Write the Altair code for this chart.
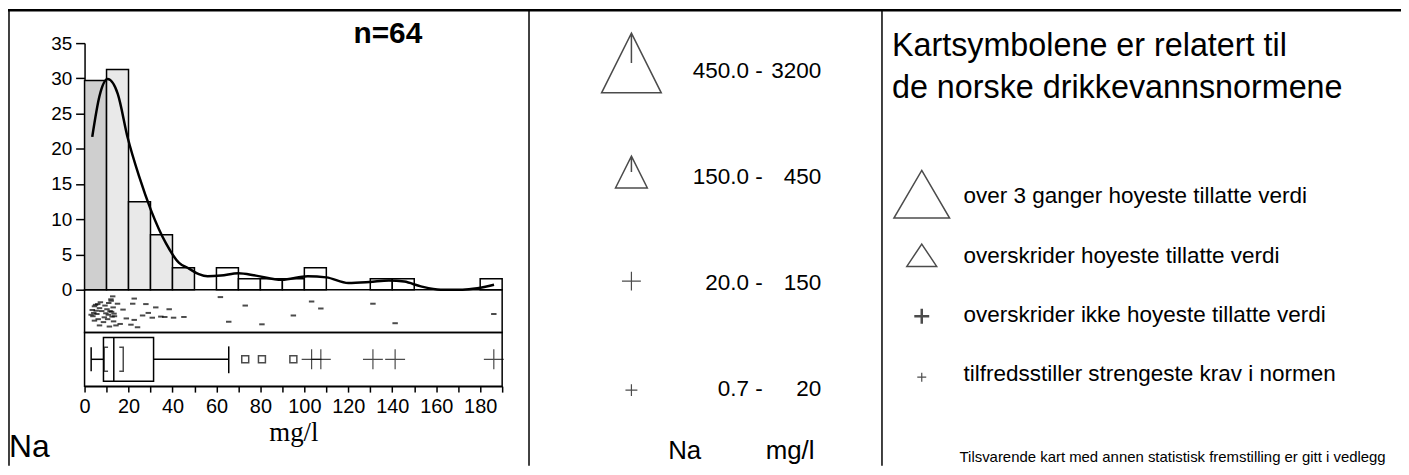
import altair as alt
import pandas as pd

# ---------------- data ----------------
na_values = [3.0, 3.5, 3.8, 4.2, 4.5, 4.5, 5.0, 5.3, 5.6, 6.0, 6.2, 6.8, 6.8, 7.2, 7.8, 8.6, 9.0, 9.3, 9.7,
             10.2, 10.5, 10.8, 11.0, 11.3, 11.6, 12.0, 12.1, 12.3, 12.5, 12.8, 13.0, 13.2, 13.4, 13.6, 14.3,
             15.0, 16.2, 17.5, 19.0,
             21.1, 21.9, 22.6, 22.6, 24.1, 26.4, 27.9, 29.0,
             30.8, 32.4, 34.7, 36.5, 38.5,
             40.5, 45.2,
             61.8, 65.6, 73.1, 80.7, 95.0, 103.3, 107.5, 131.2, 141.3, 186.2]
strip_jitter = [0.60, 0.47, 0.64, 0.55, 0.37, 0.76, 0.33, 0.49, 0.58, 0.31, 0.72, 0.42, 0.89, 0.26, 0.50,
                0.80, 0.67, 0.35, 0.56,
                0.45, 0.72, 0.60, 0.28, 0.92, 0.50, 0.18, 0.22, 0.52, 0.65, 0.10, 0.40, 0.78, 0.57, 0.64,
                0.89, 0.30, 0.85, 0.46, 0.70,
                0.87, 0.30, 0.16, 0.74, 0.94, 0.62, 0.31, 0.55,
                0.68, 0.40, 0.65, 0.66, 0.45,
                0.68, 0.66,
                0.12, 0.79, 0.35, 0.86, 0.62, 0.24, 0.43, 0.30, 0.83, 0.58]

kde_x = [3.5, 6.8, 10.5, 15.1, 19.6, 24.9, 30.2, 37.0, 43.0, 47.5, 52.0, 56.0, 62.0, 70.0, 78.0, 89.7,
         101.5, 110.0, 120.0, 129.7, 138.5, 145.5, 153.0, 162.0, 172.0, 178.7, 186.3]
kde_y = [21.7, 27.5, 29.9, 27.8, 21.6, 16.0, 11.3, 6.6, 3.8, 3.0, 2.2, 1.9, 2.0, 2.35, 2.0, 1.4,
         1.9, 1.75, 0.95, 1.1, 1.32, 1.15, 0.47, 0.0, 0.0, 0.2, 0.7]

box_low, box_q1, box_median, box_q3, box_high = 3.0, 8.6, 13.3, 31.4, 65.6
median_ci = [8.9, 17.6]
outside_values = [73.1, 80.7, 95.0]
far_out_values = [103.3, 107.5, 131.2, 141.3, 186.2]

class_lo = ["450.0 -", "150.0 -", "20.0 -", "0.7 -"]
class_hi = ["3200", "450", "150", "20"]
norm_text = ["over 3 ganger hoyeste tillatte verdi",
             "overskrider hoyeste tillatte verdi",
             "overskrider ikke hoyeste tillatte verdi",
             "tilfredsstiller strengeste krav i normen"]
heading = ["Kartsymbolene er relatert til", "de norske drikkevannsnormene"]
footer = "Tilsvarende kart med annen statistisk fremstilling er gitt i vedlegg"
element = "Na"
unit = "mg/l"
x_ticks = list(range(0, 191, 10))
y_ticks = list(range(0, 36, 5))

N = len(na_values)

# ---------------- styling / layout ----------------
SANS = "Liberation Sans, Arial, Helvetica, sans-serif"
SERIF = "Liberation Serif, Times New Roman, serif"
W, H = 1401, 459

TRI_SPIKE = "M0,-1L1,1L-1,1ZM0,-1V0"
TRI_BIG = "M0,-0.857L1,0.857L-1,0.857Z"
TRI_SMALL = "M0,-0.75L1,0.75L-1,0.75Z"
PLUS = "M-1,0H1M0,-1V1"
# (shape, size, strokeWidth) per legend row
mid_symbol_style = [(TRI_SPIKE, 3600, 1.5), (TRI_SPIKE, 1024, 1.5), (PLUS, 361, 1.2), (PLUS, 144, 1.2)]
right_symbol_style = [(TRI_BIG, 3136, 1.5), (TRI_SMALL, 900, 1.5), (PLUS, 225, 2.5), (PLUS, 81, 1.2)]

xscale = alt.Scale(domain=[0, 190], range=[77, 497], nice=False, zero=False)
yscale = alt.Scale(domain=[0, 35], range=[282, 34], nice=False)
jscale = alt.Scale(domain=[0, 1], range=[285, 322], nice=False, zero=False)

xaxis = alt.Axis(orient="bottom", offset=-80, values=x_ticks,
                 labelExpr="datum.value % 20 == 0 ? datum.label : ''",
                 tickSize=6, tickWidth=1.5, tickColor="black", domainColor="black", domainWidth=1.5,
                 labelFont=SANS, labelFontSize=20, labelColor="black", labelPadding=5,
                 labelOverlap=False, labelFlush=False, grid=False,
                 title=unit, titleFont=SERIF, titleFontSize=27, titleFontWeight="normal",
                 titleColor="black", titlePadding=3)
yaxis = alt.Axis(orient="left", offset=-77, values=y_ticks, tickSize=9, tickWidth=1.5,
                 tickColor="black", domainColor="black", domainWidth=1.5,
                 labelFont=SANS, labelFontSize=19, labelColor="black", labelPadding=4,
                 labelOverlap=False, grid=False, title=None)

def X(field):
    return alt.X(field, scale=xscale, axis=None)

one = pd.DataFrame({"k": [0]})
vals_df = pd.DataFrame({"value": na_values, "jitter": strip_jitter})

# histogram (percent of samples per 10 mg/l bin)
bars = (alt.Chart(vals_df)
        .transform_bin("b0", "value", bin=alt.Bin(extent=[0, 190], step=10))
        .transform_aggregate(n="count()", groupby=["b0", "b0_end"])
        .transform_calculate(pct=f"datum.n / {N} * 100", base="0",
                             shade="datum.b0 < 10 ? 'dark' : (datum.b0 < 50 ? 'light' : 'none')")
        .mark_rect(stroke="black", strokeWidth=1.5)
        .encode(x=alt.X("b0:Q", scale=xscale, axis=xaxis),
                x2="b0_end:Q",
                y=alt.Y("pct:Q", scale=yscale, axis=yaxis),
                y2="base:Q",
                fill=alt.Fill("shade:N", scale=alt.Scale(domain=["dark", "light", "none"],
                                                         range=["#cfcfcf", "#e9e9e9", "#ffffff"]),
                              legend=None)))

kde = (alt.Chart(pd.DataFrame({"kx": kde_x, "ky": kde_y}))
       .mark_line(color="black", strokeWidth=2.5, interpolate="monotone")
       .encode(x=X("kx:Q"), y=alt.Y("ky:Q", scale=yscale, axis=None)))

frame_df = pd.DataFrame({"lo": [0], "hi": [190]})
strip_frame = (alt.Chart(frame_df).mark_rect(fillOpacity=0, stroke="black", strokeWidth=1.5)
               .encode(x=X("lo:Q"), x2="hi:Q", y=alt.value(282), y2=alt.value(325)))
box_frame = (alt.Chart(frame_df).mark_rect(fillOpacity=0, stroke="black", strokeWidth=1.5)
             .encode(x=X("lo:Q"), x2="hi:Q", y=alt.value(325), y2=alt.value(379)))

strip = (alt.Chart(vals_df)
         .mark_point(shape="M-1,0H1", size=30, strokeWidth=2, color="black", filled=False)
         .encode(x=X("value:Q"), y=alt.Y("jitter:Q", scale=jscale, axis=None)))

stats = pd.DataFrame({"low": [box_low], "q1": [box_q1], "med": [box_median], "q3": [box_q3],
                      "high": [box_high], "ci_lo": [median_ci[0]], "ci_hi": [median_ci[1]]})
sbase = alt.Chart(stats)
box_rect = sbase.mark_rect(fillOpacity=0, stroke="black", strokeWidth=1.5).encode(
    x=X("q1:Q"), x2="q3:Q", y=alt.value(330), y2=alt.value(374))
med_line = sbase.mark_rule(color="black", strokeWidth=1.5).encode(
    x=X("med:Q"), y=alt.value(330), y2=alt.value(374))
whisk_lo = sbase.mark_rule(color="black", strokeWidth=1.5).encode(x=X("low:Q"), x2="q1:Q", y=alt.value(352))
whisk_hi = sbase.mark_rule(color="black", strokeWidth=1.5).encode(x=X("q3:Q"), x2="high:Q", y=alt.value(352))
cap_lo = sbase.mark_rule(color="black", strokeWidth=1.5).encode(x=X("low:Q"), y=alt.value(340), y2=alt.value(364))
cap_hi = sbase.mark_rule(color="black", strokeWidth=1.5).encode(x=X("high:Q"), y=alt.value(339), y2=alt.value(366))
br_lo = sbase.mark_point(shape="M0.33,-1H0V1H0.33", size=576, filled=False, strokeWidth=1.5,
                         color="black").encode(x=X("ci_lo:Q"), y=alt.value(352))
br_hi = sbase.mark_point(shape="M-0.33,-1H0V1H-0.33", size=576, filled=False, strokeWidth=1.5,
                         color="black").encode(x=X("ci_hi:Q"), y=alt.value(352))
out_sq = (alt.Chart(pd.DataFrame({"v": outside_values}))
          .mark_point(shape="square", size=49, filled=False, strokeWidth=1.5, color="black")
          .encode(x=X("v:Q"), y=alt.value(352)))
far_pl = (alt.Chart(pd.DataFrame({"v": far_out_values}))
          .mark_point(shape=PLUS, size=400, filled=False, strokeWidth=1.2, color="black")
          .encode(x=X("v:Q"), y=alt.value(352)))

def single_text(txt, x, y, font, size, weight="normal", align="left"):
    return alt.Chart(one).mark_text(x=x, y=y, align=align, baseline="alphabetic", font=font,
                                    fontSize=size, fontWeight=weight, color="black").encode(
        text=alt.value(txt))

n_text = single_text(f"n={N}", 382, 34, SANS, 30, "bold", "center")
na_left = single_text(element, 1, 450, SANS, 32)
na_mid = single_text(element, 664, 452, SANS, 26)
unit_mid = single_text(unit, 762, 452, SANS, 26)
footer_text = single_text(footer, 957, 455, SANS, 15)

# middle legend (concentration classes)
cls_df = pd.DataFrame({"row": [0, 1, 2, 3], "lo": class_lo, "hi": class_hi})
mid_sym_rows = alt.Scale(domain=[0, 3], range=[54, 383])
sym_mid = [alt.Chart(cls_df).transform_filter(f"datum.row == {i}")
           .mark_point(shape=shp, size=sz, strokeWidth=sw, filled=False, color="black")
           .encode(x=alt.value(627), y=alt.Y("row:Q", scale=mid_sym_rows, axis=None))
           for i, (shp, sz, sw) in enumerate(mid_symbol_style)]
row_txt = alt.Scale(domain=[0, 3], range=[62, 382])
lo_txt = (alt.Chart(cls_df).mark_text(align="right", baseline="middle", font=SANS, fontSize=22.6, color="black")
          .encode(x=alt.value(759), y=alt.Y("row:Q", scale=row_txt, axis=None), text="lo:N"))
hi_txt = (alt.Chart(cls_df).mark_text(align="right", baseline="middle", font=SANS, fontSize=22.6, color="black")
          .encode(x=alt.value(818), y=alt.Y("row:Q", scale=row_txt, axis=None), text="hi:N"))

# right legend (drinking-water norms)
norm_df = pd.DataFrame({"row": [0, 1, 2, 3], "label": norm_text})
right_sym_rows = alt.Scale(domain=[0, 3], range=[186, 370])
sym_right = [alt.Chart(norm_df).transform_filter(f"datum.row == {i}")
             .mark_point(shape=shp, size=sz, strokeWidth=sw, filled=False, color="black")
             .encode(x=alt.value(919), y=alt.Y("row:Q", scale=right_sym_rows, axis=None))
             for i, (shp, sz, sw) in enumerate(right_symbol_style)]
norm_txt = (alt.Chart(norm_df).mark_text(align="left", baseline="alphabetic", font=SANS, fontSize=22.6,
                                         color="black")
            .encode(x=alt.value(961),
                    y=alt.Y("row:Q", scale=alt.Scale(domain=[0, 3], range=[195, 374]), axis=None),
                    text="label:N"))
head_df = pd.DataFrame({"row": [0, 1], "t": heading})
head_txt = (alt.Chart(head_df).mark_text(align="left", baseline="alphabetic", font=SANS, fontSize=32.5,
                                         color="black")
            .encode(x=alt.value(889),
                    y=alt.Y("row:Q", scale=alt.Scale(domain=[0, 1], range=[47, 89]), axis=None),
                    text="t:N"))

# page frame
def vrule(x):
    return alt.Chart(one).mark_rule(color="black", strokeWidth=1.5).encode(
        x=alt.value(x), y=alt.value(0), y2=alt.value(H))

top_rule = alt.Chart(one).mark_rule(color="black", strokeWidth=2.5).encode(
    x=alt.value(0), x2=alt.value(W), y=alt.value(1))
frame_lines = [top_rule, vrule(1), vrule(524), vrule(879)]

layers = ([bars, kde, strip_frame, box_frame, strip, box_rect, med_line, whisk_lo, whisk_hi,
           cap_lo, cap_hi, br_lo, br_hi, out_sq, far_pl, n_text, na_left, na_mid, unit_mid,
           footer_text, lo_txt, hi_txt, norm_txt, head_txt] + sym_mid + sym_right + frame_lines)

chart = (alt.layer(*layers)
         .resolve_scale(x="independent", y="independent", fill="independent")
         .properties(width=W, height=H, padding=0, autosize=alt.AutoSizeParams(type="none"))
         .configure_view(stroke=None))

chart.save("out.html", embed_options={"renderer": "svg", "actions": False})
